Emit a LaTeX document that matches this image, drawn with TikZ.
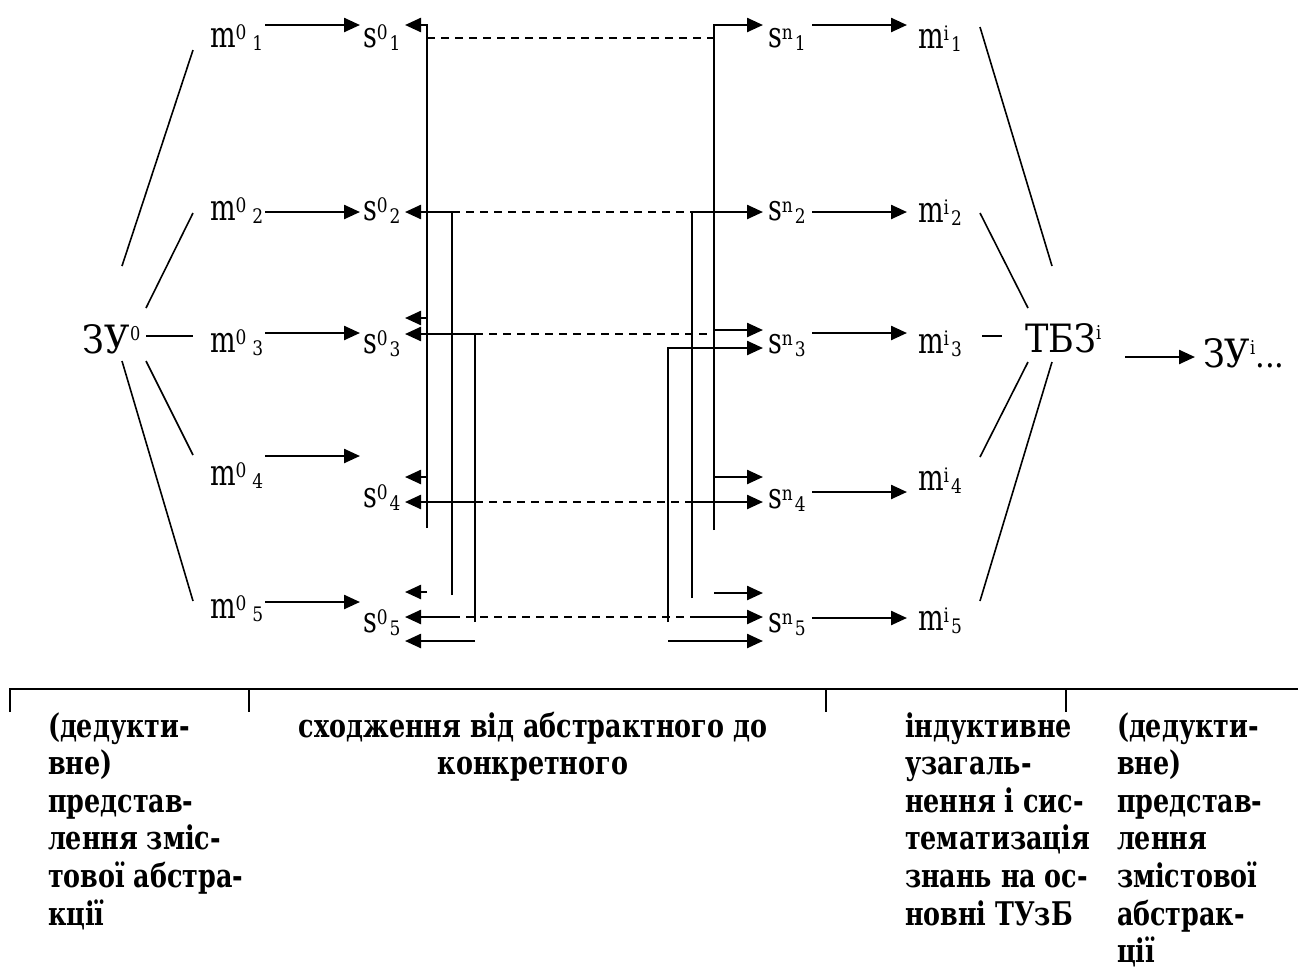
\documentclass[tikz,border=0pt]{standalone}
\usepackage{fontspec}
\usepackage{graphicx}
\usetikzlibrary{arrows.meta}
\newfontfamily\cyr{DejaVu Serif}[FakeStretch=0.9]
\newfontfamily\labfont{DejaVu Serif}[FakeStretch=0.75]
\newfontfamily\supfont{DejaVu Serif}[FakeStretch=0.85]
\newfontfamily\botfont{DejaVu Serif Bold}[FakeStretch=0.78]
\newcommand\lbl[4]{{\labfont\fontsize{18}{18}\selectfont #1}\raisebox{4pt}{\supfont\fontsize{10}{10}\selectfont #2}\hspace{#4}\raisebox{-1.5pt}{\supfont\fontsize{10}{10}\selectfont #3}}
\newcommand\cyrlab[2]{{\cyr\fontsize{19.5}{19.5}\selectfont #1}\raisebox{6.5pt}{\supfont\fontsize{9.5}{9.5}\selectfont #2}}
\newcommand\btext[2]{{\botfont\fontsize{16.3}{18.8}\selectfont\begin{tabular}[t]{@{}#1@{}}#2\end{tabular}}}
\begin{document}
\begin{tikzpicture}[x=0.5pt,y=-0.5pt,
  every node/.style={inner sep=0pt, outer sep=0pt, anchor=base west},
  arr/.style={line width=1.2pt, -{Triangle[length=8pt,width=7pt]}},
  ln/.style={line width=1.1pt},
  thinl/.style={line width=0.8pt},
  dsh/.style={line width=0.9pt, dash pattern=on 4pt off 3pt}]
\useasboundingbox (0,0) rectangle (1298,970);
% labels
\node (Z0) at (83,353) {\cyrlab{ЗУ}{0}};
\foreach \y/\k in {47/1,220/2,352/3,485/4,618/5} \node (m0\k) at (210,\y) {\lbl{m}{0}{\k}{3pt}};
\foreach \y/\k in {47/1,220/2,353/3,507/4,632/5} \node (s0\k) at (363,\y) {\lbl{s}{0}{\k}{1pt}};
\foreach \y/\k in {47/1,220/2,353/3,508/4,632/5} \node (sn\k) at (768,\y) {\lbl{s}{n}{\k}{1pt}};
\foreach \y/\k in {48/1,222/2,353/3,490/4,630/5} \node (mi\k) at (918,\y) {\lbl{m}{i}{\k}{1pt}};
\node (T) at (1025,352) {\cyrlab{ТБЗ}{i}};
\node (Zi) at (1203,367) {\cyrlab{ЗУ}{i}{\cyr\fontsize{17}{17}\selectfont...}};
% fan lines left
\draw[thinl] (122,266) -- (193,50);
\draw[thinl] (146,308) -- (193,213);
\draw[thinl] (146,336) -- (193,336);
\draw[thinl] (146,361) -- (193,455);
\draw[thinl] (122,361) -- (193,601);
% m0 -> s0
\foreach \y in {25,212,333,456,602} \draw[arr] (265,\y) -- (360,\y);
% left brackets
\draw[arr] (427,528) -- (427,25) -- (405,25);
\draw[arr] (427,318) -- (405,318);
\draw[arr] (427,477) -- (405,477);
\draw[arr] (427,592) -- (405,592);
\draw[arr] (452,595) -- (452,212) -- (405,212);
\draw[arr] (475,622) -- (475,334) -- (405,334);
\draw[arr] (475,502) -- (405,502);
\draw[arr] (452,617) -- (405,617);
\draw[arr] (475,641) -- (405,641);
% dashed
\draw[dsh] (427,38) -- (714,38);
\draw[dsh] (452,212) -- (692,212);
\draw[dsh] (475,334) -- (714,334);
\draw[dsh] (475,502) -- (692,502);
\draw[dsh] (452,617) -- (692,617);
% right brackets
\draw[arr] (714,530) -- (714,25) -- (763,25);
\draw[arr] (714,330) -- (763,330);
\draw[arr] (714,477) -- (763,477);
\draw[arr] (714,593) -- (763,593);
\draw[arr] (692,598) -- (692,212) -- (763,212);
\draw[arr] (692,502) -- (763,502);
\draw[arr] (692,617) -- (763,617);
\draw[arr] (668,622) -- (668,348) -- (763,348);
\draw[arr] (668,641) -- (763,641);
% sn -> mi
\foreach \y in {25,212,333,492,618} \draw[arr] (812,\y) -- (907,\y);
% fan lines right
\draw[thinl] (980,27) -- (1052,266);
\draw[thinl] (980,213) -- (1028,308);
\draw[thinl] (982,336) -- (1002,336);
\draw[thinl] (1028,362) -- (980,457);
\draw[thinl] (1052,362) -- (980,601);
\draw[arr] (1125,357) -- (1195,357);
% bottom scale
\draw[ln] (10,712) -- (10,689) -- (1298,689);
\foreach \x in {249,826,1066} \draw[ln] (\x,689) -- (\x,712);
\node (b1) at (48,737) {\btext{l}{(дедукти-\\вне)\\представ-\\лення зміс-\\тової абстра-\\кції}};
\node[anchor=base] (b2) at (533,737) {\btext{c}{сходження від абстрактного до\\конкретного}};
\node (b3) at (905,737) {\btext{l}{індуктивне\\узагаль-\\нення і сис-\\тематизація\\знань на ос-\\новні ТУзБ}};
\node (b4) at (1117,737) {\btext{l}{(дедукти-\\вне)\\представ-\\лення\\змістової\\абстрак-\\ції}};
\end{tikzpicture}
\end{document}
